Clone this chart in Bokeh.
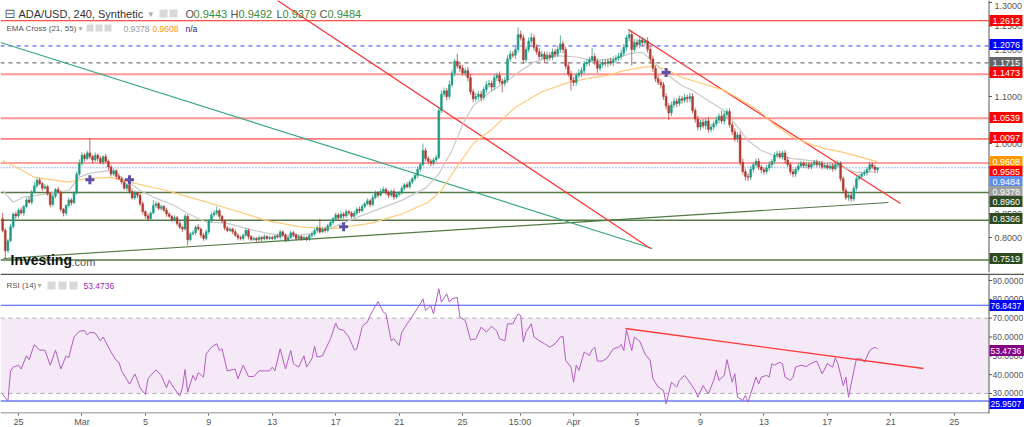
import numpy as np
from bokeh.plotting import figure
from bokeh.layouts import column
from bokeh.models import (Range1d, Span, Label, BoxAnnotation, FixedTicker, ColumnDataSource)
from bokeh.core.properties import value
from bokeh.embed import file_html
from bokeh.resources import INLINE

FONT = "Liberation Sans"

# ---------------- data (4h candles, first candle Feb 24 00:00) ----------------
FIRST_OPEN = 0.840
CLOSE = [
    0.815, 0.772, 0.793, 0.823, 0.850, 0.846,
    0.858, 0.852, 0.866, 0.880, 0.875, 0.897,
    0.910, 0.922, 0.915, 0.905, 0.908, 0.893,
    0.870, 0.888, 0.902, 0.896, 0.860, 0.852,
    0.868, 0.880, 0.874, 0.895, 0.935, 0.958,
    0.975, 0.968, 0.980, 0.972, 0.965, 0.975,
    0.968, 0.960, 0.972, 0.962, 0.950, 0.935,
    0.942, 0.930, 0.925, 0.918, 0.905, 0.912,
    0.898, 0.884, 0.895, 0.890, 0.872, 0.855,
    0.846, 0.840, 0.852, 0.868, 0.872, 0.862,
    0.866, 0.858, 0.850, 0.845, 0.838, 0.842,
    0.830, 0.822, 0.818, 0.845, 0.795, 0.808,
    0.810, 0.822, 0.818, 0.805, 0.798, 0.812,
    0.835, 0.848, 0.852, 0.857, 0.845, 0.835,
    0.820, 0.815, 0.818, 0.812, 0.805, 0.800,
    0.798, 0.805, 0.815, 0.802, 0.796, 0.798,
    0.795, 0.800, 0.797, 0.802, 0.798, 0.800,
    0.798, 0.803, 0.801, 0.812, 0.805, 0.795,
    0.800, 0.810, 0.806, 0.798, 0.802, 0.797,
    0.800, 0.796, 0.804, 0.808, 0.815, 0.820,
    0.812, 0.818, 0.815, 0.825, 0.832, 0.840,
    0.848, 0.842, 0.850, 0.846, 0.855, 0.852,
    0.845, 0.852, 0.860, 0.857, 0.866, 0.872,
    0.878, 0.870, 0.885, 0.895, 0.890, 0.898,
    0.902, 0.895, 0.890, 0.898, 0.886, 0.892,
    0.895, 0.905, 0.912, 0.908, 0.918, 0.925,
    0.932, 0.945, 0.955, 0.985, 0.968, 0.962,
    0.958, 0.965, 0.970, 1.070, 1.105, 1.112,
    1.100, 1.125, 1.150, 1.175, 1.165, 1.160,
    1.150, 1.155, 1.140, 1.110, 1.095, 1.100,
    1.105, 1.098, 1.115, 1.125, 1.128, 1.120,
    1.140, 1.145, 1.132, 1.128, 1.135, 1.180,
    1.190, 1.188, 1.200, 1.232, 1.225, 1.178,
    1.200, 1.218, 1.225, 1.205, 1.195, 1.185,
    1.190, 1.180, 1.188, 1.183, 1.195, 1.190,
    1.200, 1.212, 1.200, 1.165, 1.148, 1.135,
    1.130, 1.145, 1.150, 1.155, 1.170, 1.172,
    1.178, 1.185, 1.175, 1.160, 1.168, 1.172,
    1.170, 1.175, 1.172, 1.178, 1.182, 1.185,
    1.192, 1.205, 1.225, 1.232, 1.200, 1.215,
    1.210, 1.220, 1.215, 1.218, 1.200, 1.180,
    1.160, 1.138, 1.130, 1.125, 1.100, 1.080,
    1.065, 1.082, 1.090, 1.085, 1.095, 1.092,
    1.098, 1.095, 1.100, 1.070, 1.052, 1.035,
    1.045, 1.038, 1.048, 1.030, 1.035, 1.042,
    1.050, 1.058, 1.048, 1.062, 1.068, 1.040,
    1.025, 1.010, 1.018, 0.960, 0.940, 0.930,
    0.928, 0.945, 0.955, 0.962, 0.950, 0.944,
    0.940, 0.948, 0.955, 0.962, 0.975, 0.978,
    0.972, 0.980, 0.965, 0.955, 0.940, 0.935,
    0.945, 0.952, 0.958, 0.953, 0.955, 0.950,
    0.956, 0.960, 0.955, 0.958, 0.950, 0.953,
    0.948, 0.952, 0.946, 0.955, 0.958, 0.925,
    0.900, 0.885, 0.890, 0.882, 0.905, 0.925,
    0.930, 0.935, 0.938, 0.945, 0.955, 0.950,
    0.9443, 0.9484,
]
# wick lengths in thousandths of a dollar
WICK_UP = [
    12, 5, 4, 6, 3, 5,  4, 6, 3, 5, 7, 4,  8, 4, 5, 3, 6, 4,  4, 5, 3, 6, 4, 3,
    3, 5, 4, 3, 6, 8,  6, 4, 5, 31, 4, 6,  4, 5, 3, 6, 4, 5,  5, 3, 6, 4, 5, 4,
    4, 6, 5, 3, 4, 5,  3, 5, 4, 12, 5, 4,  4, 3, 5, 4, 3, 5,  4, 5, 3, 5, 4, 3,
    5, 4, 6, 3, 4, 5,  4, 5, 6, 9, 4, 3,  3, 5, 4, 3, 5, 4,  4, 3, 5, 4, 3, 4,
    3, 4, 3, 5, 3, 4,  4, 3, 5, 4, 3, 4,  3, 5, 4, 3, 4, 3,  4, 3, 4, 5, 4, 6,
    20, 4, 5, 4, 5, 4,  5, 4, 6, 4, 5, 4,  4, 5, 4, 6, 5, 4,  5, 4, 6, 5, 4, 6,
    6, 4, 5, 4, 6, 5,  4, 5, 4, 6, 5, 4,  5, 6, 4, 15, 6, 5,  5, 4, 6, 6, 8, 7,
    6, 8, 7, 6, 16, 7,  7, 6, 8, 7, 6, 8,  6, 7, 6, 8, 7, 6,  7, 6, 8, 6, 7, 8,
    8, 7, 6, 15, 8, 7,  6, 8, 10, 7, 6, 8,  7, 6, 8, 6, 7, 6,  8, 18, 7, 6, 8, 7,
    7, 6, 8, 7, 6, 8,  6, 19, 7, 6, 8, 7,  7, 6, 8, 7, 6, 8,  8, 7, 6, 11, 8, 7,
    7, 8, 6, 7, 8, 6,  7, 6, 8, 7, 6, 7,  6, 7, 8, 6, 7, 6,  7, 6, 8, 7, 6, 7,
    6, 7, 6, 8, 7, 6,  7, 6, 12, 7, 6, 7,  6, 7, 6, 7, 8, 6,  6, 7, 5, 6, 7, 5,
    5, 6, 7, 5, 6, 7,  6, 5, 6, 7, 5, 6,  5, 6, 5, 4, 5, 6,  4, 5, 6, 5, 4, 5,
    5, 4, 5, 6, 5, 4,  5, 6, 4, 5, 6, 5,  5, 4, 6, 5, 6, 5,  5, 0.8,
]
WICK_DN = [
    4, 17, 5, 3, 4, 6,  5, 3, 6, 4, 3, 5,  3, 5, 4, 6, 3, 4,  6, 4, 5, 3, 5, 7,
    5, 4, 6, 3, 4, 5,  5, 6, 4, 5, 7, 4,  6, 4, 5, 3, 6, 5,  4, 6, 3, 5, 4, 6,
    5, 3, 4, 6, 5, 6,  6, 5, 4, 3, 5, 4,  5, 4, 6, 3, 5, 4,  5, 4, 6, 3, 12, 4,
    4, 5, 3, 6, 5, 4,  5, 3, 4, 5, 6, 4,  5, 4, 3, 5, 4, 6,  4, 5, 3, 6, 4, 3,
    4, 3, 5, 3, 4, 3,  3, 4, 3, 5, 4, 5,  4, 3, 5, 4, 3, 4,  3, 4, 3, 4, 5, 3,
    4, 3, 5, 4, 3, 5,  4, 5, 3, 6, 4, 5,  5, 3, 4, 5, 3, 4,  4, 5, 3, 4, 5, 3,
    4, 5, 6, 4, 6, 4,  5, 4, 5, 3, 4, 5,  4, 5, 6, 4, 5, 6,  6, 5, 4, 3, 5, 6,
    8, 6, 5, 7, 6, 8,  6, 7, 8, 6, 7, 6,  7, 8, 6, 7, 6, 8,  6, 7, 6, 19, 7, 6,
    7, 6, 8, 7, 6, 8,  7, 6, 7, 8, 6, 7,  6, 8, 6, 7, 6, 7,  6, 7, 8, 7, 6, 22,
    8, 7, 6, 8, 7, 6,  7, 6, 8, 10, 6, 7,  6, 7, 6, 8, 7, 6,  7, 6, 8, 7, 34, 6,
    6, 7, 8, 6, 7, 8,  8, 7, 6, 8, 7, 8,  15, 7, 6, 8, 6, 7,  6, 8, 7, 6, 8, 7,
    7, 6, 8, 7, 6, 7,  6, 7, 6, 8, 7, 6,  7, 6, 8, 7, 6, 9,  8, 6, 7, 5, 6, 7,
    6, 5, 6, 7, 5, 6,  5, 6, 7, 5, 6, 7,  6, 5, 4, 5, 6, 5,  5, 4, 5, 6, 5, 4,
    4, 5, 6, 4, 5, 6,  6, 5, 7, 6, 5, 6,  4, 5, 4, 6, 5, 4,  6, 6.4,
]

EMA21_IDX = [0, 4, 8, 12, 18, 25, 29, 33, 41, 47, 52, 57, 65, 70, 77, 85, 95, 103, 110,
             118, 125, 136, 151, 160, 165, 170, 174, 178, 184, 191, 196, 201, 209, 217,
             223, 232, 237, 242, 247, 251, 257, 261, 267, 273, 277, 282, 287, 292, 299,
             305, 311, 318, 323, 328, 331]
EMA21_VAL = [0.900, 0.875, 0.886, 0.889, 0.894, 0.900, 0.928, 0.937, 0.943, 0.921, 0.900,
             0.886, 0.868, 0.851, 0.833, 0.830, 0.815, 0.806, 0.804, 0.809, 0.822, 0.847,
             0.879, 0.905, 0.935, 0.985, 1.040, 1.080, 1.108, 1.134, 1.155, 1.173, 1.187,
             1.184, 1.177, 1.180, 1.191, 1.194, 1.170, 1.148, 1.123, 1.113, 1.091, 1.070,
             1.043, 1.006, 0.985, 0.974, 0.968, 0.964, 0.960, 0.949, 0.938, 0.940, 0.9378]
EMA55_IDX = [0, 5, 12, 25, 32, 41, 50, 62, 75, 88, 100, 113, 125, 139, 151, 161, 166, 170,
             178, 185, 194, 204, 214, 223, 229, 235, 242, 247, 251, 257, 261, 273, 280, 286,
             292, 299, 305, 311, 318, 324, 331]
EMA55_VAL = [0.964, 0.950, 0.928, 0.918, 0.926, 0.928, 0.915, 0.900, 0.879, 0.857, 0.836,
             0.822, 0.819, 0.830, 0.850, 0.875, 0.900, 0.935, 1.000, 1.030, 1.077, 1.110,
             1.130, 1.140, 1.145, 1.155, 1.162, 1.165, 1.158, 1.140, 1.134, 1.113, 1.091,
             1.070, 1.040, 1.013, 1.000, 0.989, 0.981, 0.972, 0.9608]
CROSS_IDX = [33, 48, 129, 251]
CROSS_VAL = [0.923, 0.923, 0.823, 1.151]

RSI_IDX = [0, 2, 3, 4, 6, 7, 9, 10, 12, 14, 16, 18, 20, 22, 24, 25, 27, 29, 31, 32, 33, 35,
           37, 38, 41, 43, 44, 45, 48, 50, 51, 52, 54, 55, 58, 60, 62, 63, 65, 67, 68, 69,
           70, 72, 73, 74, 76, 77, 79, 81, 82, 83, 85, 88, 89, 91, 93, 95, 97, 99, 101,
           102, 103, 105, 107, 109, 110, 112, 114, 115, 117, 118, 119, 121, 124, 126, 127,
           129, 131, 133, 134, 136, 137, 138, 139, 140, 142, 144, 145, 147, 148, 150, 151,
           153, 154, 156, 158, 159, 160, 162, 163, 165, 166, 168, 169, 170, 172, 173, 175,
           177, 179, 181, 183, 185, 187, 188, 190, 191, 193, 195, 196, 197, 198, 200, 201,
           203, 205, 207, 209, 211, 212, 213, 215, 216, 217, 218, 220, 222, 223, 224, 225,
           227, 229, 231, 233, 234, 235, 236, 238, 239, 241, 243, 245, 246, 248, 250, 251,
           253, 255, 256, 258, 259, 262, 263, 265, 267, 269, 270, 271, 273, 274, 276, 277,
           278, 280, 281, 282, 285, 286, 287, 289, 290, 291, 292, 294, 295, 296, 298, 299,
           300, 302, 304, 306, 308, 310, 311, 312, 314, 315, 316, 318, 319, 320, 321, 323,
           325, 326, 328, 330, 331]
RSI_VAL = [29.5, 26, 42, 44, 45, 43, 50, 48, 56, 53, 53, 45, 53, 43, 50, 49, 60, 63, 63.5,
           61, 62.5, 62, 58, 60, 52, 47.5, 46.6, 42, 35, 40.4, 37, 33, 29.5, 38, 42.6, 39.5,
           33, 37, 32.5, 28.6, 33, 42.7, 30.7, 39.6, 37, 41, 38.7, 51, 54.6, 56.4, 52.8,
           53.7, 42, 43, 37.8, 45, 39, 39, 42, 42, 42, 44, 42, 53.7, 43, 52.8, 45.8, 44, 50,
           44, 48.4, 55, 49.3, 50, 59, 67.3, 64.3, 63.5, 60, 53.2, 53.7, 65.2, 67, 67.9,
           71.4, 74, 78.8, 73.2, 72.3, 58, 59, 55.5, 62.6, 67, 68.8, 73.2, 77.6, 80.3, 74,
           76.7, 72.3, 85.6, 78.5, 83, 78.5, 80.3, 81, 70.5, 68.8, 58.5, 59, 65.2, 62.6,
           65.6, 63, 59, 58, 67, 67, 72.3, 71.4, 57.3, 62.6, 67, 60, 58, 56.4, 54.6, 56.4,
           60, 60.3, 47.5, 44, 36, 45, 42.2, 52, 50.2, 53.2, 54.6, 47.2, 47.2, 49.3, 53.7,
           54.6, 56, 52.8, 63.8, 52.8, 60, 57.8, 51, 47.5, 37.8, 33.4, 31.6, 24.5, 36, 33.4,
           37, 39.6, 37.8, 31.6, 28, 34.2, 29.8, 37, 42.2, 37, 39.6, 48, 36, 40.4, 28, 26.3,
           29, 25.4, 38.7, 35, 38.7, 39.6, 38.7, 45.8, 45, 46.6, 45.8, 38.7, 37, 38.7, 44,
           45, 44.3, 46.1, 47.2, 40.4, 43, 45.8, 44, 48.9, 45.8, 34.2, 38.7, 28, 35, 48.4,
           48.4, 46.6, 52.8, 54.6, 53.4736]

LEVELS = [1.2612, 1.2076, 1.1715, 1.1473, 1.0539, 1.0097, 0.9585, 0.9484, 0.8960, 0.8366, 0.7519]
BOX_TEXT = ["1.2612", "1.2076", "1.1715", "1.1473", "1.0539", "1.0097", "0.9608", "0.9585",
            "0.9484", "0.9378", "0.8960", "0.8366", "0.7519"]
RSI_LEVELS = [76.8437, 25.9507]
RSI_BOX_TEXT = ["76.8437", "53.4736", "25.9507"]

# drawn trend lines: (day, price) end points
TREND_T0 = [-0.946, -1.135, 16.33, 38.46]
TREND_P0 = [0.7553, 1.2149, 1.3043, 1.2426]
TREND_T1 = [54.85, 39.97, 39.85, 55.61]
TREND_P1 = [0.8745, 0.7766, 0.7766, 0.8723]
RSI_TREND_T = [38.27, 57.06]
RSI_TREND_V = [64.5, 43.27]

X_TICKS = [0, 4, 8, 12, 16, 20, 24, 28, 31.625, 35, 39, 43, 47, 51, 55, 59]
X_LABELS = ["25", "Mar", "5", "9", "13", "17", "21", "25", "15:00", "Apr", "5", "9",
            "13", "17", "21", "25"]
PRICE_TICKS = [0.75, 0.80, 0.85, 0.90, 0.95, 1.00, 1.05, 1.10, 1.15, 1.20, 1.25, 1.30]
RSI_TICKS = [30, 40, 50, 60, 70, 80, 90]


# ---------------- layout helpers (pixel -> data) ----------------
def tx(xpx):
    return (xpx - 18) / 15.86


def py(ypx):
    return 1.3 - (ypx - 2) / 470


def ry(ypx):
    return 90 - (ypx - 280) / 1.883


AX = 988.5          # right price-axis position (px)
XMIN = tx(0)

# ---------------- derived candles ----------------
n = len(CLOSE)
opens = [FIRST_OPEN] + CLOSE[:-1]
t = [-1 + i / 6 for i in range(n)]
highs = [max(o, c) + u / 1000 for o, c, u in zip(opens, CLOSE, WICK_UP)]
lows = [min(o, c) - d / 1000 for o, c, d in zip(opens, CLOSE, WICK_DN)]
GREEN, RED = "#1f9a83", "#ae3a30"
cols = [GREEN if c >= o else RED for o, c in zip(opens, CLOSE)]
src = ColumnDataSource(dict(t=t, h=highs, l=lows,
                            top=[max(a, b) for a, b in zip(opens, CLOSE)],
                            bot=[min(a, b) for a, b in zip(opens, CLOSE)], col=cols))
idx2t = lambda lst: [-1 + i / 6 for i in lst]

XR = Range1d(tx(0), tx(1024))


def right_axis(fig, ticks, labels, ytop, ybot, xlab, size, offs):
    fig.segment(x0=[tx(AX)], y0=[ybot], x1=[tx(AX)], y1=[ytop], line_color="#555555",
                line_width=1)
    fig.segment(x0=[tx(AX)] * len(ticks), y0=ticks, x1=[tx(AX + 3)] * len(ticks),
                y1=ticks, line_color="#555555", line_width=1)
    fig.text(x=[tx(xlab)] * len(ticks), y=ticks, text=labels, y_offset=offs,
             text_font=value(FONT), text_font_size=size, text_color="#555555",
             text_baseline="middle", text_align="left")


def boxes(fig, ys, texts, colors, w, size, xlab):
    fig.rect(x=[tx(AX + w / 2 + 0.5)] * len(ys), y=ys, width=w, height=11,
             width_units="screen", height_units="screen", fill_color=colors,
             line_color=None)
    fig.text(x=[tx(xlab)] * len(ys), y=ys, text=texts, text_font=value(FONT),
             text_font_size=size, text_color="white", text_baseline="middle",
             text_align="left")


def lab(fig, fb, x, ypx, text, color, size, bold=False, font=FONT):
    fig.add_layout(Label(x=x, y=fb - ypx, x_units="screen", y_units="screen", text=text,
                         text_color=color, text_font_size=size, text_font=font,
                         text_baseline="middle", text_align="left",
                         text_font_style="bold" if bold else "normal"))


def icon(fig, fb, x0, x1, y0, y1):
    fig.add_layout(BoxAnnotation(left=x0, right=x1, top=fb - y0, bottom=fb - y1,
                                 left_units="screen", right_units="screen",
                                 top_units="screen", bottom_units="screen",
                                 fill_color="#d8d8d8", fill_alpha=1, line_color=None))


# ---------------- main price panel ----------------
MAIN_H = 272
p = figure(frame_width=1024, frame_height=MAIN_H, x_range=XR,
           y_range=Range1d(py(MAIN_H), py(0)), x_axis_location=None,
           y_axis_location=None, output_backend="svg", toolbar_location=None,
           min_border_left=0, min_border_right=0, min_border_top=0, min_border_bottom=1,
           outline_line_color=None, background_fill_color="white", border_fill_color="white")
p.xgrid.grid_line_color = None
p.ygrid.grid_line_color = None

level_style = [("#ff2020", 1, 1.0, "solid"), ("#3344ff", 1, 1.0, "4 4"),
               ("#555555", 1, 1.0, "4 4"), ("#ff4040", 2, 0.55, "solid"),
               ("#ff4040", 2, 0.55, "solid"), ("#ff2020", 1, 1.0, "solid"),
               ("#ff4040", 2, 0.5, "solid"), ("#4a7cf0", 1, 1.0, "1 2"),
               ("#557a45", 1.5, 1.0, "solid"), ("#557a45", 1.5, 1.0, "solid"),
               ("#557a45", 1.5, 1.0, "solid")]
for lv, (c, w, a, d) in zip(LEVELS, level_style):
    p.segment(x0=[XMIN], y0=[lv], x1=[tx(AX)], y1=[lv], line_color=c, line_width=w,
              line_alpha=a, line_dash=d)

trend_colors = ["#4f7942", "#3aa57f", "#ff3030", "#ff3030"]
for t0, p0, t1, p1, c in zip(TREND_T0, TREND_P0, TREND_T1, TREND_P1, trend_colors):
    p.line([t0, t1], [p0, p1], line_color=c, line_width=1.2)

p.line(idx2t(EMA55_IDX), EMA55_VAL, line_color="#ffc97a", line_width=1.2)
p.line(idx2t(EMA21_IDX), EMA21_VAL, line_color="#c9c9c9", line_width=1.2)

p.segment(x0="t", y0="l", x1="t", y1="h", source=src, line_color="col", line_width=1,
          line_alpha=0.75)
p.vbar(x="t", width=0.7 / 6, top="top", bottom="bot", source=src, fill_color="col",
       line_color="col", line_width=0.5)

p.scatter(idx2t(CROSS_IDX), CROSS_VAL, marker="cross", size=9, line_width=3,
          line_color="#5e50a8")

right_axis(p, PRICE_TICKS, [f"{v:.4f}" for v in PRICE_TICKS], py(0), py(MAIN_H), 994, "9px",
           [0] * (len(PRICE_TICKS) - 1) + [3])
box_col = ["#ff0000", "#0000ff", "#666666", "#ff0000", "#ff0000", "#ff0000", "#ff9800",
           "#ff0000", "#5b8def", "#9e9e9e", "#2e4a1f", "#2e4a1f", "#2e4a1f"]
box_ypx = [20, 44, 62, 72, 117, 137, 161, 171, 181, 191, 201, 218, 258]
boxes(p, [py(v) for v in box_ypx], BOX_TEXT, box_col, 33, "9px", 992)

# header
lab(p, MAIN_H, 4, 13, "⊟", "#666666", "13px", font="DejaVu Sans")
lab(p, MAIN_H, 18, 13, "ADA/USD, 240, Synthetic", "#333333", "11px")
lab(p, MAIN_H, 148, 13, "▾", "#aaaaaa", "9px", font="DejaVu Sans")
icon(p, MAIN_H, 159, 167, 9, 17)
icon(p, MAIN_H, 169, 177, 9, 17)
for xl, letter, xv, val in [(185, "O", 193, "0.9443"), (230, "H", 238, "0.9492"),
                            (276, "L", 282, "0.9379"), (319, "C", 327, "0.9484")]:
    lab(p, MAIN_H, xl, 13, letter, "#555555", "11px")
    lab(p, MAIN_H, xv, 13, val, "#3a8a3f", "11px")
lab(p, MAIN_H, 6, 28, "EMA Cross (21, 55)", "#555555", "8px")
lab(p, MAIN_H, 78, 28, "▾", "#aaaaaa", "8px", font="DejaVu Sans")
icon(p, MAIN_H, 86, 93, 24, 31)
icon(p, MAIN_H, 95, 102, 24, 31)
icon(p, MAIN_H, 104, 111, 24, 31)
lab(p, MAIN_H, 123, 28, "0.9378", "#999999", "8.5px")
lab(p, MAIN_H, 152, 28, "0.9608", "#ff9800", "8.5px")
lab(p, MAIN_H, 185, 28, "n/a", "#1a237e", "8.5px")

# watermark
lab(p, MAIN_H, 10, 259, "Investing", "#111111", "14px", bold=True)
lab(p, MAIN_H, 71, 261, ".com", "#555555", "11px")

# ---------------- RSI panel ----------------
RSI_TOP, RSI_BOT = 273, 413
RSI_H = RSI_BOT - RSI_TOP
r = figure(frame_width=1024, frame_height=RSI_H, x_range=XR,
           y_range=Range1d(ry(RSI_BOT), ry(RSI_TOP)), y_axis_location=None,
           output_backend="svg", toolbar_location=None,
           min_border_left=0, min_border_right=0, min_border_top=0, min_border_bottom=14,
           outline_line_color=None, background_fill_color="white", border_fill_color="white")
r.xgrid.grid_line_color = None
r.ygrid.grid_line_color = None
xa = r.xaxis[0]
xa.ticker = FixedTicker(ticks=X_TICKS)
xa.major_label_overrides = {k: v for k, v in zip(X_TICKS, X_LABELS)}
xa.major_label_text_font = FONT
xa.major_label_text_font_size = "9px"
xa.major_label_text_color = "#555555"
xa.axis_line_color = None
xa.major_tick_line_color = "#555555"
xa.major_tick_out = 2
xa.major_tick_in = 0
xa.minor_tick_line_color = None
xa.major_label_standoff = 1

r.add_layout(BoxAnnotation(left=XMIN, right=tx(AX), bottom=30, top=70, fill_color="#9c27b0",
                           fill_alpha=0.1, line_color=None, level="underlay"))
for lv in (70, 30):
    r.segment(x0=[XMIN], y0=[lv], x1=[tx(AX)], y1=[lv], line_color="#aaaaaa",
              line_width=1, line_dash="4 4")
r.segment(x0=[XMIN], y0=[RSI_LEVELS[0]], x1=[tx(AX)], y1=[RSI_LEVELS[0]],
          line_color="#3d4dff", line_width=1.2)
r.segment(x0=[XMIN], y0=[RSI_LEVELS[1]], x1=[tx(AX)], y1=[RSI_LEVELS[1]],
          line_color="#8f9cff", line_width=2)
# panel separator and bottom axis line
r.segment(x0=[XMIN], y0=[ry(RSI_TOP + 0.8)], x1=[tx(1024)], y1=[ry(RSI_TOP + 0.8)],
          line_color="#555555", line_width=1.6)
r.segment(x0=[XMIN], y0=[ry(RSI_BOT - 0.5)], x1=[tx(AX)], y1=[ry(RSI_BOT - 0.5)],
          line_color="#666666", line_width=1)

r.line(idx2t(RSI_IDX), RSI_VAL, line_color="#b25cc2", line_width=1)
r.line(RSI_TREND_T, RSI_TREND_V, line_color="#ff3a3a", line_width=1.3)

right_axis(r, RSI_TICKS, [f"{v:.4f}" for v in RSI_TICKS], ry(RSI_TOP + 1), ry(RSI_BOT),
           992, "8.5px", [0] * len(RSI_TICKS))
boxes(r, [ry(305), ry(350), ry(403)], RSI_BOX_TEXT, ["#0000ff", "#800080", "#0000ff"],
      35, "8.5px", 990)

FB = RSI_BOT
lab(r, FB, 6, 285, "RSI (14)", "#555555", "8px")
lab(r, FB, 37, 285, "▾", "#aaaaaa", "8px", font="DejaVu Sans")
icon(r, FB, 47, 55, 281, 289)
icon(r, FB, 58, 66, 281, 289)
icon(r, FB, 69, 77, 281, 289)
lab(r, FB, 83, 285, "53.4736", "#9c27b0", "8.5px")

layout = column(p, r, spacing=0)
open("out.html", "w").write(file_html(layout, INLINE))
